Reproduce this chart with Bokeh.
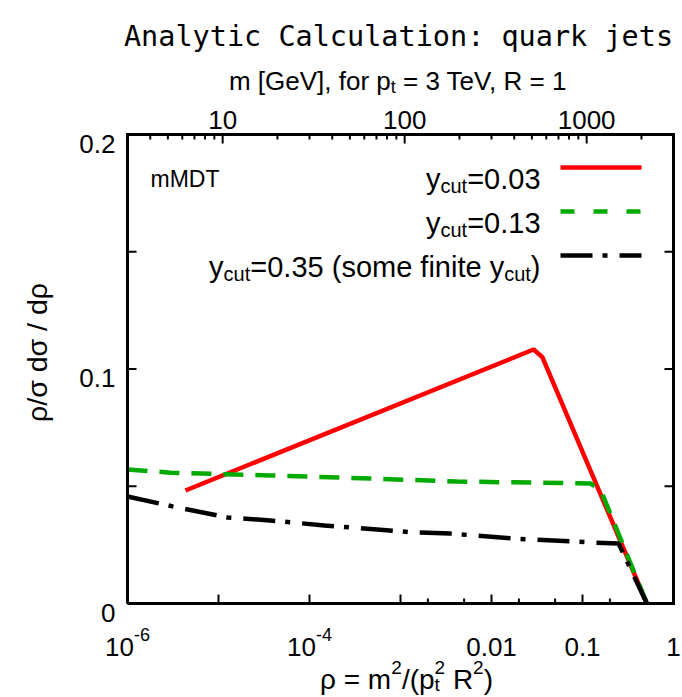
import math
from bokeh.plotting import figure
from bokeh.models import Range1d, Label
from bokeh.embed import file_html
from bokeh.resources import INLINE

# ---------------- data ----------------
rho_red = [4.33e-6, 0.029, 0.0363, 0.51]
val_red = [0.0482, 0.1083, 0.105, 0.0]

rho_green = [1e-6, 2.97e-6, 3.7e-5, 4.7e-4, 4.2e-3, 0.122, 0.1426, 0.166, 0.51]
val_green = [0.0571, 0.0558, 0.0546, 0.0533, 0.0520, 0.0512, 0.0495, 0.0465, 0.0]

rho_black = [1e-6, 3.13e-6, 1.26e-5, 3.7e-5, 1.46e-4, 1.43e-3, 3.55e-3, 0.0175, 0.132, 0.249, 0.51]
val_black = [0.0456, 0.0414, 0.0367, 0.0354, 0.0333, 0.0303, 0.0298, 0.0277, 0.026, 0.0256, 0.0]

y_ticks = [0, 0.05, 0.1, 0.15, 0.2]
y_tick_labels = ["0", "", "0.1", "", "0.2"]
x_major = [1e-6, 1e-5, 1e-4, 1e-3, 1e-2, 1e-1, 1]
x_minor = [2e-3, 5e-3, 2e-2, 5e-2, 2e-1, 5e-1]
x_label_vals = [1e-6, 1e-4, 1e-2, 1e-1, 1.0]
x_label_base = ["10", "10", "0.01", "0.1", "1"]
x_label_exp = ["-6", "-4", "", "", ""]
m_major = [10, 100, 1000]
m_minor = [4, 5, 6, 7, 8, 9, 20, 30, 40, 50, 60, 70, 80, 90,
           200, 300, 400, 500, 600, 700, 800, 900, 2000, 3000]
PT_GEV, R_JET = 3000.0, 1.0

# ---------------- layout (pixels) ----------------
W, H = 682, 697
L, R, T, B = 127, 673, 134, 603
XMIN, XMAX, YMIN, YMAX = 1e-6, 1.0, 0.0, 0.2
LX0, LX1 = math.log10(XMIN), math.log10(XMAX)


def px2x(px):
    return 10 ** (LX0 + (px - L) / (R - L) * (LX1 - LX0))


def px2y(py):
    return YMIN + (B - py) / (B - T) * (YMAX - YMIN)


def x2px(x):
    return L + (math.log10(x) - LX0) / (LX1 - LX0) * (R - L)


def y2px(y):
    return B - (y - YMIN) / (YMAX - YMIN) * (B - T)


p = figure(width=W, height=H, x_axis_type="log", output_backend="svg",
           toolbar_location=None, x_axis_location=None, y_axis_location=None,
           x_range=Range1d(px2x(0), px2x(W)), y_range=Range1d(px2y(H), px2y(0)),
           min_border=0, min_border_left=0, min_border_right=0,
           min_border_top=0, min_border_bottom=0)
p.grid.visible = False
p.outline_line_color = None
p.background_fill_color = "white"
p.border_fill_color = "white"

# ---------------- curves ----------------
p.line(rho_red, val_red, line_color="#ff0000", line_width=4.5)
p.line(rho_green, val_green, line_color="#00aa00", line_width=4.5, line_dash="20 12")
p.line(rho_black, val_black, line_color="black", line_width=4.5, line_dash="32 10 5 12")

# ---------------- frame and ticks ----------------
MAJ, MIN_ = 9, 5
p.line([XMIN, XMAX, XMAX, XMIN, XMIN], [YMIN, YMIN, YMAX, YMAX, YMIN],
       line_color="black", line_width=3, line_join="miter")
p.segment(x0=x_major, x1=x_major, y0=[YMIN] * len(x_major),
          y1=[px2y(B - MAJ)] * len(x_major), line_color="black", line_width=2)
p.segment(x0=x_minor, x1=x_minor, y0=[YMIN] * len(x_minor),
          y1=[px2y(B - MIN_)] * len(x_minor), line_color="black", line_width=2)
m_maj_rho = [(m / (PT_GEV * R_JET)) ** 2 for m in m_major]
m_min_rho = [(m / (PT_GEV * R_JET)) ** 2 for m in m_minor]
p.segment(x0=m_maj_rho, x1=m_maj_rho, y0=[YMAX] * len(m_maj_rho),
          y1=[px2y(T + MAJ)] * len(m_maj_rho), line_color="black", line_width=2)
p.segment(x0=m_min_rho, x1=m_min_rho, y0=[YMAX] * len(m_min_rho),
          y1=[px2y(T + MIN_)] * len(m_min_rho), line_color="black", line_width=2)
p.segment(x0=[XMIN] * len(y_ticks), x1=[px2x(L + MAJ)] * len(y_ticks),
          y0=y_ticks, y1=y_ticks, line_color="black", line_width=2)
p.segment(x0=[XMAX] * len(y_ticks), x1=[px2x(R - MAJ)] * len(y_ticks),
          y0=y_ticks, y1=y_ticks, line_color="black", line_width=2)

# ---------------- text helpers ----------------
SANS = "Liberation Sans"
AW = {c: 556 for c in "0123456789"}
AW.update({".": 278, ",": 278, "-": 333, "=": 584, " ": 278, "(": 333, ")": 333,
           "[": 278, "]": 278, "/": 278, "a": 556, "c": 500, "d": 556, "e": 556,
           "f": 278, "i": 222, "m": 833, "n": 556, "o": 556, "p": 556, "r": 333,
           "s": 500, "t": 278, "u": 556, "v": 500, "y": 500, "M": 833, "D": 722,
           "T": 611, "G": 778, "V": 667, "R": 722, "ρ": 574, "σ": 618})


def tw(s, size):
    return sum(AW.get(c, 556) for c in s) / 1000 * size


def put(text, px, py, size, align="left", font=SANS, angle=0, baseline="alphabetic"):
    p.add_layout(Label(x=px2x(px), y=px2y(py), text=text, text_font=font,
                       text_font_size=f"{size}px", text_align=align,
                       text_baseline=baseline, angle=angle, text_color="black"))


def rich(parts, px, py, align="left"):
    """parts: (text, size, rise in px[, advance]); leading blanks become gaps"""
    parts = [(q + (True,))[:4] for q in parts if q[0]]
    total = sum(tw(t, s) for t, s, _, adv in parts if adv)
    x0 = px - total / 2 if align == "center" else (px - total if align == "right" else px)
    for t, s, rise, adv in parts:
        lead = len(t) - len(t.lstrip(" "))
        core = t.lstrip(" ")
        put(core, x0 + tw(" " * lead, s), py - rise, s)
        if adv:
            x0 += tw(t, s)


F = 26           # tick labels / subtitle
FL, SL = 29, 20  # legend
FA, SA = 28, 19  # axis titles

# title and top axis
put("Analytic Calculation: quark jets", 398, 36, 28.5, align="center", font="DejaVu Sans Mono")
rich([("m [GeV], for p", F, 0), ("t", 18, -6), (" = 3 TeV, R = 1", F, 0)], 400, 80, "center")
for m, rr in zip(m_major, m_maj_rho):
    put(str(m), x2px(rr), 119, F, align="center")

# left tick labels
for v, s in zip(y_ticks, y_tick_labels):
    if s:
        put(s, 115, y2px(v) + 9, F, align="right")

# bottom tick labels
for xv, base, ex in zip(x_label_vals, x_label_base, x_label_exp):
    rich([(base, F, 0), (ex, 18, 12)], x2px(xv), 646, "center")

# axis titles
rich([("ρ = m", FA, 0), ("2", SA, 12), ("/(p", FA, 0), ("t", SA, -5, False), ("2", SA, 12),
      (" R", FA, 0), ("2", SA, 12), (")", FA, 0)], 406, 679, "center")
put("ρ/σ dσ / dρ", 36, 352, 28.5, align="center", angle=math.pi / 2, baseline="middle")

# in-plot label
put("mMDT", 150, 178, 23)

# legend
leg_rows = [
    ([("y", FL, 0), ("cut", SL, -7), ("=0.03", FL, 0)], 167, "#ff0000", None),
    ([("y", FL, 0), ("cut", SL, -7), ("=0.13", FL, 0)], 211, "#00aa00", "14 19"),
    ([("y", FL, 0), ("cut", SL, -7), ("=0.35 (some finite y", FL, 0), ("cut", SL, -7), (")", FL, 0)],
     255, "black", "32 10 5 12"),
]
for parts, yc, col, dash in leg_rows:
    rich(parts, 540, yc + 11, "right")
    kw = dict(line_color=col, line_width=4.5)
    if dash:
        kw["line_dash"] = dash
    p.line([px2x(560), px2x(641)], [px2y(yc), px2y(yc)], **kw)

open("out.html", "w").write(file_html(p, INLINE))
